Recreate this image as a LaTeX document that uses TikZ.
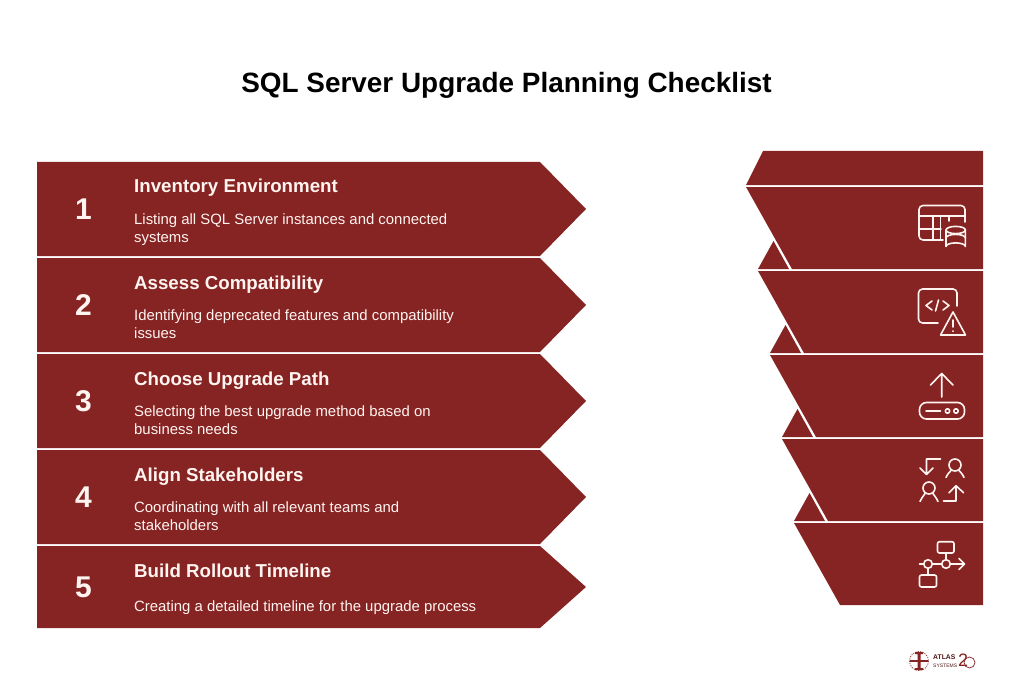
\documentclass[tikz,border=0pt]{standalone}
\usepackage{fontspec}
\setmainfont{Liberation Sans}
\definecolor{wine}{HTML}{862323}
\definecolor{ink}{HTML}{FFF4F0}
\tikzset{
  x=1pt,y=-1pt,
  band/.style={fill=wine,draw=none},
  num/.style={text=ink,font=\fontsize{30}{30}\selectfont\bfseries,anchor=center,inner sep=0},
  head/.style={text=ink,font=\fontsize{18.7}{22}\selectfont\bfseries,anchor=base west,inner sep=0},
  body/.style={text=ink,font=\fontsize{14.9}{18.5}\selectfont,anchor=base west,inner sep=0,align=left},
  ico/.style={draw=ink,line width=1.6pt,fill=none,line cap=round,line join=round},
}
\begin{document}
\begin{tikzpicture}
\useasboundingbox (0,0) rectangle (1020,698);
\node[anchor=center,inner sep=0,font=\fontsize{27.9}{32}\selectfont\bfseries] (title) at (506.5,85) {SQL Server Upgrade Planning Checklist};
% left arrows
\fill[band] (37,162)--(540,162)--(586,209)--(540,256)--(37,256)--cycle;
\fill[band] (37,258)--(540,258)--(586,305)--(540,352)--(37,352)--cycle;
\fill[band] (37,354)--(540,354)--(586,401)--(540,448)--(37,448)--cycle;
\fill[band] (37,450)--(540,450)--(586,497)--(540,544)--(37,544)--cycle;
\fill[band] (37,546)--(540,546)--(586,587)--(540,628)--(37,628)--cycle;
\node[num] (n1) at (83.5,209.5) {1};
\node[num] (n2) at (83.5,305.5) {2};
\node[num] (n3) at (83.5,401.5) {3};
\node[num] (n4) at (83.5,497.5) {4};
\node[num] (n5) at (83.5,587.5) {5};
\node[head] (h1) at (134,193) {Inventory Environment};
\node[head] (h2) at (134,289) {Assess Compatibility};
\node[head] (h3) at (134,385) {Choose Upgrade Path};
\node[head] (h4) at (134,481) {Align Stakeholders};
\node[head] (h5) at (134,577) {Build Rollout Timeline};
\node[body] (b1) at (134,224) {Listing all SQL Server instances and connected};
\node[body] (b1b) at (134,242) {systems};
\node[body] (b2) at (134,320) {Identifying deprecated features and compatibility};
\node[body] (b2b) at (134,338) {issues};
\node[body] (b3) at (134,416) {Selecting the best upgrade method based on};
\node[body] (b3b) at (134,434) {business needs};
\node[body] (b4) at (134,512) {Coordinating with all relevant teams and};
\node[body] (b4b) at (134,530) {stakeholders};
\node[body] (b5) at (134,611) {Creating a detailed timeline for the upgrade process};
% right stack
\fill[band] (763,151)--(983,151)--(983,185)--(746,185)--cycle;
\fill[band] (746,187)--(983,187)--(983,269)--(792,269)--cycle;
\fill[band] (758,269)--(773.5,241)--(789,269)--cycle;
\fill[band] (758,271)--(983,271)--(983,353)--(804,353)--cycle;
\fill[band] (770,353)--(785.5,325)--(801,353)--cycle;
\fill[band] (770,355)--(983,355)--(983,437)--(816,437)--cycle;
\fill[band] (782,437)--(797.5,409)--(813,437)--cycle;
\fill[band] (782,439)--(983,439)--(983,521)--(828,521)--cycle;
\fill[band] (794,521)--(809.5,493)--(825,521)--cycle;
\fill[band] (794,523)--(983,523)--(983,605)--(840,605)--cycle;
% icon 1: table + database
\draw[ico,rounded corners=4pt] (943,240)--(919,240)--(919,205.5)--(965,205.5)--(965,222);
\draw[ico] (919,216)--(965,216);
\draw[ico] (919,229)--(941,229);
\draw[ico] (933,216)--(933,240) (940.5,216)--(940.5,240) (949,216)--(949,221);
\draw[ico] (946,230) arc[x radius=9.7,y radius=3.6,start angle=180,end angle=540];
\draw[ico] (946,230)--(946,246.5) arc[x radius=9.7,y radius=3.6,start angle=180,end angle=360]--(965.4,230);
\draw[ico] (946,238) arc[x radius=9.7,y radius=3.6,start angle=180,end angle=360];
% icon 2: code + warning
\draw[ico,rounded corners=4pt] (938,323)--(918.5,323)--(918.5,289)--(957,289)--(957,306);
\draw[ico] (932,301)--(926,305.5)--(932,310) (943,301)--(949,305.5)--(943,310) (938.5,300)--(935.5,311);
\draw[ico] (953,312)--(965.5,335)--(940.5,335)--cycle;
\draw[ico] (953,320)--(953,327) (953,331)--(953,331.3);
% icon 3: upload + device
\draw[ico] (941.7,397)--(941.7,373.5) (930.5,385)--(941.7,373.5)--(953,385);
\draw[ico,rounded corners=7pt] (919.5,402.5) rectangle (964.5,419);
\draw[ico] (926,411)--(940.5,411);
\draw[ico] (947.5,411) circle[radius=2.2] (956,411) circle[radius=2.2];
% icon 4: people swap
\draw[ico] (940.5,459)--(926.5,459)--(926.5,474) (920,468)--(926.5,474.5)--(933,468);
\draw[ico] (955,465) circle[radius=6];
\draw[ico] (946,477.5) .. controls (947.5,474) and (949.5,472) .. (951,470.5) (959,470.5) .. controls (960.5,472) and (962.5,474) .. (964,477.5);
\draw[ico] (929,488) circle[radius=6];
\draw[ico] (920,501.5) .. controls (921.5,498) and (923.5,496) .. (925,493.5) (933,493.5) .. controls (934.5,496) and (936.5,498) .. (938,501.5);
\draw[ico] (943.5,501)--(956,501)--(956,486) (949,492.7)--(956,485.7)--(963.5,492.7);
% icon 5: process
\draw[ico,rounded corners=2pt] (937.5,541.7) rectangle (954,553);
\draw[ico] (946,553)--(946,559.7);
\draw[ico] (946,564) circle[radius=4.3] (928,564) circle[radius=4.3];
\draw[ico] (919.5,564)--(923.7,564) (932.3,564)--(941.7,564) (950.3,564)--(964.5,564) (959,558.5)--(964.5,564)--(959,569.5);
\draw[ico] (928,568.3)--(928,575);
\draw[ico,rounded corners=2pt] (919.5,575) rectangle (936.5,587);
% logo
\draw[wine,line width=0.7pt,dash pattern=on 1.2pt off 1.2pt] (919,661) circle[radius=9.5];
\fill[wine] (915,652)--(923,652)--(923,654)--(920.5,654)--(920.5,668)--(923,668)--(923,670)--(915,670)--(915,668)--(917.5,668)--(917.5,654)--(915,654)--cycle;
\fill[wine] (910,660)--(928,660)--(928,662)--(910,662)--cycle;
\node[anchor=west,inner sep=0,text=wine!60!black,font=\fontsize{6.8}{7}\selectfont\bfseries] (logoa) at (933,657) {ATLAS};
\node[anchor=west,inner sep=0,text=wine!60!black,font=\fontsize{5}{6}\selectfont] (logob) at (933,665.5) {SYSTEMS};
\node[anchor=center,inner sep=0,text=wine,font=\fontsize{18}{18}\selectfont] (logoc) at (963,660.5) {2};
\draw[wine,line width=0.7pt] (969.5,662.5) circle[radius=5.5];
\end{tikzpicture}
\end{document}
